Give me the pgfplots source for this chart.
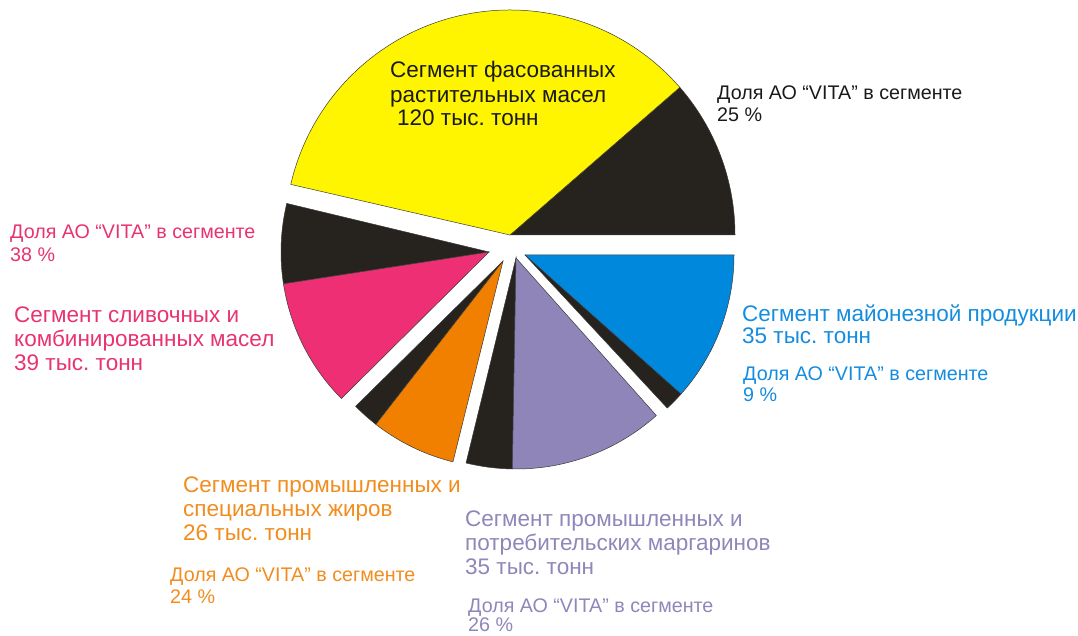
\documentclass[border=0pt]{standalone}
\usepackage{pgfplots}
\pgfplotsset{compat=1.18}
\usepackage{fontspec}
\setmainfont{Liberation Sans}
\frenchspacing
\definecolor{cblk}{HTML}{26231F}
\definecolor{cyel}{HTML}{FFF500}
\definecolor{cpink}{HTML}{EE2F74}
\definecolor{corange}{HTML}{F28000}
\definecolor{cpurple}{HTML}{9085B9}
\definecolor{cblue}{HTML}{0088DD}
\definecolor{cedge}{HTML}{3A3A3A}
\definecolor{tpink}{HTML}{E8336F}
\definecolor{torange}{HTML}{F28C1E}
\definecolor{tpurple}{HTML}{8F86B9}
\definecolor{tblue}{HTML}{148CDF}
\definecolor{tblack}{HTML}{1A1A1A}
\newcommand\bigf{\fontsize{22.5}{27}\selectfont}
\newcommand\smallf{\fontsize{19.7}{22}\selectfont}
% slice: cx, cy, radius, start angle, end angle, colour
\newcommand\pieslice[6]{\fill[#6, draw=cedge, line width=0.5pt, line join=miter] (axis cs:#1,#2) -- ++(#4:#3pt) arc[start angle=#4, end angle=#5, radius=#3pt] -- cycle;}
\begin{document}
\begin{tikzpicture}
\begin{axis}[hide axis, x=1pt, y=1pt, xmin=0, xmax=1078, ymin=0, ymax=636, clip=false, scale only axis]
\coordinate (BL) at (axis cs:0,0);
\coordinate (TR) at (axis cs:1078,636);
% vegetable oils 120 kt, VITA share 25 %
\pieslice{510}{401}{225}{0}{41}{cblk}
\pieslice{510}{401}{225}{41}{167}{cyel}
% butter 39 kt, share 38 %
\pieslice{489}{384}{208}{166.5}{188.8}{cblk}
\pieslice{489}{384}{208}{188.8}{224.8}{cpink}
% industrial fats 26 kt, share 24 %
\pieslice{503}{375}{207}{224.6}{232.1}{cblk}
\pieslice{503}{375}{207}{232.1}{256}{corange}
% margarines 35 kt, share 26 %
\pieslice{516}{378}{211}{256.3}{269}{cblk}
\pieslice{516}{378}{211}{269}{311.7}{cpurple}
% mayonnaise 35 kt, share 9 %
\pieslice{525}{381}{209}{312.9}{318.3}{cblk}
\pieslice{525}{381}{209}{318.3}{360}{cblue}
% labels
\node[anchor=base west, text=tblack, font=\bigf, inner sep=0pt] at (axis cs:390,558) {Сегмент фасованных};
\node[anchor=base west, text=tblack, font=\bigf, inner sep=0pt] at (axis cs:390,533) {растительных масел};
\node[anchor=base west, text=tblack, font=\bigf, inner sep=0pt] at (axis cs:397,510) {120 тыс. тонн};
\node[anchor=base west, text=tblack, font=\smallf, inner sep=0pt] at (axis cs:717,536) {Доля АО “VITA” в сегменте};
\node[anchor=base west, text=tblack, font=\smallf, inner sep=0pt] at (axis cs:717,514) {25 \%};
\node[anchor=base west, text=tpink, font=\smallf, inner sep=0pt] at (axis cs:10,397) {Доля АО “VITA” в сегменте};
\node[anchor=base west, text=tpink, font=\smallf, inner sep=0pt] at (axis cs:10,374) {38 \%};
\node[anchor=base west, text=tpink, font=\bigf, inner sep=0pt] at (axis cs:14,313) {Сегмент сливочных и};
\node[anchor=base west, text=tpink, font=\bigf, inner sep=0pt] at (axis cs:14,289) {комбинированных масел};
\node[anchor=base west, text=tpink, font=\bigf, inner sep=0pt] at (axis cs:14,265) {39 тыс. тонн};
\node[anchor=base west, text=tblue, font=\bigf, inner sep=0pt] at (axis cs:742,314) {Сегмент майонезной продукции};
\node[anchor=base west, text=tblue, font=\bigf, inner sep=0pt] at (axis cs:742,292) {35 тыс. тонн};
\node[anchor=base west, text=tblue, font=\smallf, inner sep=0pt] at (axis cs:743,255) {Доля АО “VITA” в сегменте};
\node[anchor=base west, text=tblue, font=\smallf, inner sep=0pt] at (axis cs:743,234) {9 \%};
\node[anchor=base west, text=torange, font=\bigf, inner sep=0pt] at (axis cs:183,143) {Сегмент промышленных и};
\node[anchor=base west, text=torange, font=\bigf, inner sep=0pt] at (axis cs:183,119) {специальных жиров};
\node[anchor=base west, text=torange, font=\bigf, inner sep=0pt] at (axis cs:183,95) {26 тыс. тонн};
\node[anchor=base west, text=torange, font=\smallf, inner sep=0pt] at (axis cs:170,54) {Доля АО “VITA” в сегменте};
\node[anchor=base west, text=torange, font=\smallf, inner sep=0pt] at (axis cs:170,32) {24 \%};
\node[anchor=base west, text=tpurple, font=\bigf, inner sep=0pt] at (axis cs:465,109) {Сегмент промышленных и};
\node[anchor=base west, text=tpurple, font=\bigf, inner sep=0pt] at (axis cs:465,85) {потребительских маргаринов};
\node[anchor=base west, text=tpurple, font=\bigf, inner sep=0pt] at (axis cs:465,61) {35 тыс. тонн};
\node[anchor=base west, text=tpurple, font=\smallf, inner sep=0pt] at (axis cs:468,23) {Доля АО “VITA” в сегменте};
\node[anchor=base west, text=tpurple, font=\smallf, inner sep=0pt] at (axis cs:468,4) {26 \%};
\end{axis}
\pgfresetboundingbox
\path[use as bounding box] (BL) rectangle (TR);
\end{tikzpicture}
\end{document}
